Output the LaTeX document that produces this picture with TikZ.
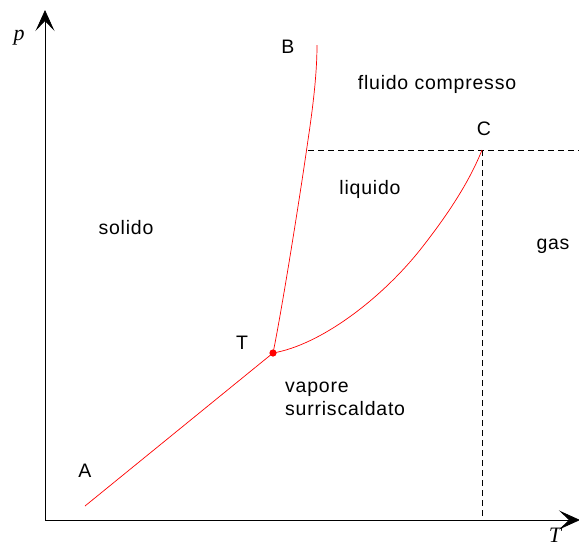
\documentclass[tikz,border=0pt]{standalone}
\usepackage{fontspec}
\setmainfont{Liberation Sans}[LetterSpace=4]
\newfontfamily\serifit{Liberation Serif}
\usetikzlibrary{arrows.meta}
\begin{document}
\begin{tikzpicture}[x=1pt,y=-1pt,
  lbl/.style={font=\fontsize{19.5}{23}\selectfont, inner sep=0pt},
  axlbl/.style={font=\fontsize{22}{24}\selectfont\serifit\itshape, inner sep=0pt},
  axis/.style={line width=0.8pt,-{Stealth[length=21pt,width=19pt,inset=10pt]}},
  curve/.style={red, line width=0.7pt},
  guide/.style={dashed, dash pattern=on 6pt off 4pt, line width=0.6pt}]
\useasboundingbox (0,0) rectangle (579,547);
% axes
\coordinate (O) at (45,520);
\coordinate (Ptop) at (45,10);
\coordinate (Tend) at (580,520);
\draw[axis] (O) -- (Ptop);
\draw[axis] (O) -- (Tend);
\node[axlbl] (plab) at (19,38) {p};
\node[axlbl] (tlab) at (555,535) {T};
% key points
\coordinate (A) at (85,506);
\coordinate (Tp) at (273,353);
\coordinate (B) at (317,45);
\coordinate (C) at (482,150);
\coordinate (Hl) at (308,150);
\coordinate (Hr) at (579,150);
\coordinate (Vb) at (482,520);
% dashed guides
\draw[guide] (Hl) -- (Hr);
\draw[guide] (C) -- (Vb);
% curves
\draw[curve] (A) -- (Tp);
\draw[curve] (Tp) .. controls (280,320) and (298,210) .. (308,140)
  .. controls (314,100) and (317,70) .. (B);
\draw[curve] (Tp) .. controls (320,345) and (380,300) .. (420,250)
  .. controls (450,212) and (470,180) .. (C);
\fill[red] (Tp) circle (3.6pt);
% labels
\node[lbl] (lB) at (288,47) {B};
\node[lbl] (lC) at (484,129) {C};
\node[lbl] (lA) at (85,471) {A};
\node[lbl] (lT) at (242,343) {T};
\node[lbl] (fc) at (437,84) {fluido compresso};
\node[lbl] (liq) at (370,189) {liquido};
\node[lbl] (sol) at (126,228) {solido};
\node[lbl] (gas) at (553,246) {gas};
\node[lbl, align=left, anchor=west] (vap) at (285,399) {vapore\\surriscaldato};
\end{tikzpicture}
\end{document}
